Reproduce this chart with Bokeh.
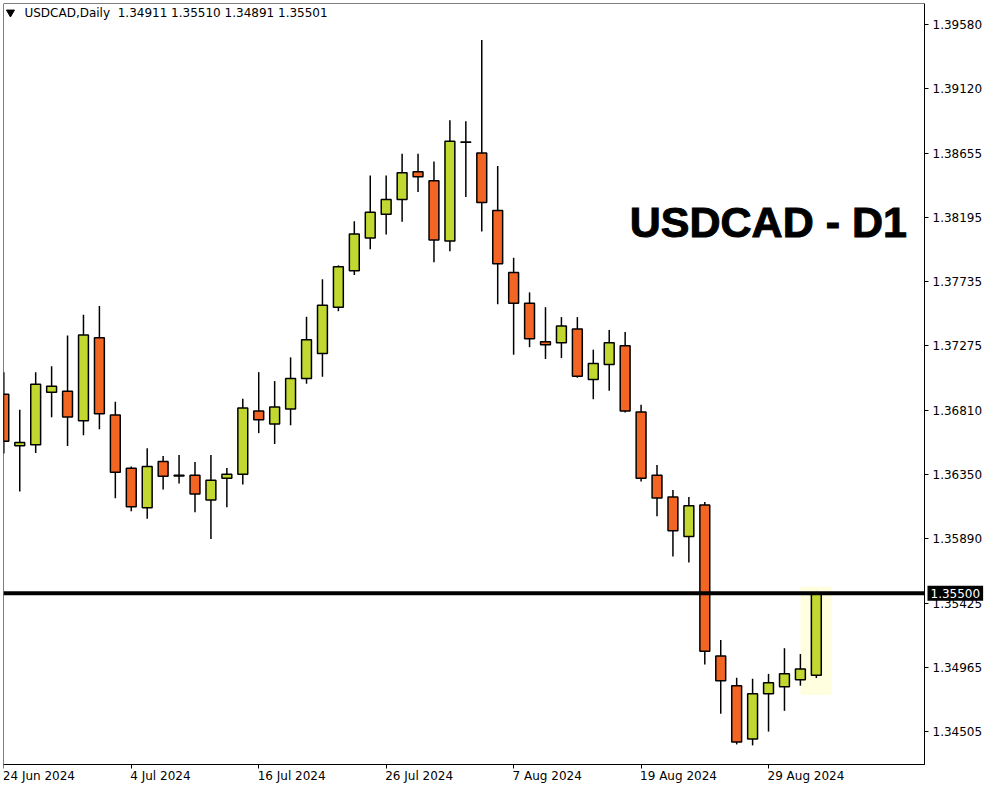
from bokeh.plotting import figure
from bokeh.models import (FixedTicker, BoxAnnotation, Label, ColumnDataSource,
                          Range1d, LinearAxis)
from bokeh.embed import file_html
from bokeh.resources import INLINE

# ---------------- data ----------------
symbol_header = "USDCAD,Daily\u00a0 1.34911 1.35510 1.34891 1.35501"
big_title = "USDCAD - D1"

opens = [1.36927, 1.36558, 1.36565, 1.36941, 1.36948, 1.36736, 1.37331, 1.36778, 1.36395, 1.36112,
         1.36445, 1.36345, 1.36346, 1.36168, 1.36324, 1.36353, 1.36806, 1.36714, 1.36821, 1.37040,
         1.37218, 1.37551, 1.37813, 1.38047, 1.38217, 1.38323, 1.38522, 1.38458, 1.38026, 1.38736,
         1.38656, 1.38245, 1.37799, 1.37579, 1.37303, 1.37296, 1.37395, 1.37033, 1.37139, 1.37274,
         1.36799, 1.36346, 1.36190, 1.35906, 1.36133, 1.35049, 1.34836, 1.34453, 1.34779, 1.34829,
         1.34878, 1.34911]
highs = [1.37085, 1.36816, 1.37085, 1.37128, 1.37347, 1.37496, 1.37560, 1.36872, 1.36409, 1.36539,
         1.36483, 1.36490, 1.36440, 1.36490, 1.36397, 1.36894, 1.37085, 1.37021, 1.37191, 1.37482,
         1.37751, 1.37851, 1.38167, 1.38496, 1.38496, 1.38651, 1.38651, 1.38595, 1.38892, 1.38885,
         1.39467, 1.38564, 1.37905, 1.37657, 1.37551, 1.37480, 1.37480, 1.37246, 1.37388, 1.37373,
         1.36851, 1.36419, 1.36239, 1.36190, 1.36154, 1.35164, 1.34893, 1.34886, 1.34921, 1.35105,
         1.35063, 1.35510]
lows = [1.36502, 1.36229, 1.36506, 1.36761, 1.36555, 1.36633, 1.36676, 1.36180, 1.36088, 1.36034,
        1.36244, 1.36286, 1.36081, 1.35889, 1.36116, 1.36279, 1.36648, 1.36570, 1.36704, 1.37002,
        1.37052, 1.37522, 1.37782, 1.37966, 1.38072, 1.38164, 1.38377, 1.37874, 1.37952, 1.38342,
        1.38094, 1.37572, 1.37210, 1.37264, 1.37179, 1.37186, 1.37045, 1.36891, 1.36952, 1.36796,
        1.36300, 1.36052, 1.35762, 1.35719, 1.34989, 1.34635, 1.34415, 1.34408, 1.34507, 1.34656,
        1.34836, 1.34891]
closes = [1.36589, 1.36580, 1.36998, 1.36984, 1.36764, 1.37352, 1.36787, 1.36367, 1.36119, 1.36409,
          1.36339, 1.36340, 1.36211, 1.36310, 1.36353, 1.36828, 1.36743, 1.36835, 1.37040, 1.37317,
          1.37565, 1.37841, 1.38075, 1.38231, 1.38323, 1.38515, 1.38486, 1.38033, 1.38741, 1.38733,
          1.38302, 1.37863, 1.37579, 1.37324, 1.37281, 1.37416, 1.37055, 1.37147, 1.37296, 1.36806,
          1.36324, 1.36183, 1.35947, 1.36126, 1.35084, 1.34871, 1.34432, 1.34779, 1.34857, 1.34921,
          1.34956, 1.35501]

date_tick_index = [0, 8, 16, 24, 32, 40, 48]
date_tick_labels = ["24 Jun 2024", "4 Jul 2024", "16 Jul 2024", "26 Jul 2024",
                    "7 Aug 2024", "19 Aug 2024", "29 Aug 2024"]
price_ticks = [1.34505, 1.34965, 1.35425, 1.35890, 1.36350, 1.36810,
               1.37275, 1.37735, 1.38195, 1.38655, 1.39120, 1.39580]
price_tick_labels = ["1.34505", "1.34965", "1.35425", "1.35890", "1.36350", "1.36810",
                     "1.37275", "1.37735", "1.38195", "1.38655", "1.39120", "1.39580"]
level_price = 1.35500
level_label = "1.35500"
highlight_bars = (50.0, 51.98)
highlight_prices = (1.34770, 1.35545)

# ---------------- geometry / styling ----------------
UP = "#C2D830"
DOWN = "#F26522"
FONT = "DejaVu Sans"
FS = 12

XS, XV = -0.02, 57.79        # visible bar range (chart box)
YSV, YE = 1.34271, 1.39729   # visible price range (chart box)
FW, FH = 981, 781            # frame incl. axis label area
BOX_R, BOX_B = 924, 764      # chart box right / bottom in canvas px (frame starts at 3,3)
PXU = (BOX_R - 3) / (XV - XS)          # px per bar
UPY = (YE - YSV) / (BOX_B - 3)         # price per px
XE = XS + FW / PXU
YS = YE - FH * UPY


def cx2x(cx):
    return XS + (cx - 3) / PXU


def rx(px):  # reference pixel -> data
    return XS + (px - 3) / 925 * (XV - XS)


def ry(py):
    return YE - (py - 3) / 770 * (YE - YSV)


idx = list(range(len(opens)))
tops = [max(o, c) for o, c in zip(opens, closes)]
bots = [min(o, c) for o, c in zip(opens, closes)]
cols = [UP if c > o else DOWN for o, c in zip(opens, closes)]
src = ColumnDataSource(dict(x=idx, high=highs, low=lows, top=tops, bottom=bots, color=cols))

p = figure(frame_width=FW, frame_height=FH,
           min_border_left=3, min_border_top=3, min_border_right=0, min_border_bottom=0,
           x_range=Range1d(XS, XE), y_range=Range1d(YS, YE),
           x_axis_location=None, y_axis_location=None,
           output_backend="svg", toolbar_location=None,
           background_fill_color="white", border_fill_color="white")
p.grid.visible = False
p.outline_line_color = None

# highlight box behind last candles
p.add_layout(BoxAnnotation(left=highlight_bars[0], right=highlight_bars[1],
                           bottom=highlight_prices[0], top=highlight_prices[1],
                           fill_color="#FFFFE0", fill_alpha=1, line_alpha=0, level="underlay"))

# candles
p.segment(x0="x", x1="x", y0="low", y1="high", source=src, line_color="black", line_width=1.5)
p.vbar(x="x", width=0.62, top="top", bottom="bottom", source=src,
       fill_color="color", line_color="black", line_width=1.5)

# level line across the chart box
p.line(x=[XS, XV], y=[level_price, level_price], line_color="black", line_width=4)

# chart box border
p.add_layout(BoxAnnotation(left=XS, right=XV, bottom=YSV, top=YE, fill_alpha=0,
                           line_color="black", line_width=1, line_alpha=1))

# y axis on the right edge of the chart box
yax = LinearAxis(fixed_location=XV, ticker=FixedTicker(ticks=price_ticks),
                 major_label_overrides={t: l for t, l in zip(price_ticks, price_tick_labels)},
                 bounds=(YSV, YE))
yax.minor_tick_line_color = None
yax.major_tick_in = 0
yax.major_tick_out = 4
yax.major_label_standoff = 4
yax.major_label_text_font = FONT
yax.major_label_text_font_size = f"{FS}px"
yax.major_label_text_color = "black"
yax.axis_line_color = "black"
yax.major_tick_line_color = "black"
p.add_layout(yax, "right")

# x axis: tick marks at the dates
xticks_ax = LinearAxis(fixed_location=YSV, ticker=FixedTicker(ticks=date_tick_index),
                       major_label_overrides={t: "" for t in date_tick_index},
                       bounds=(XS, XV))
xticks_ax.minor_tick_line_color = None
xticks_ax.major_tick_in = 0
xticks_ax.major_tick_out = 4
xticks_ax.axis_line_color = "black"
xticks_ax.major_tick_line_color = "black"
p.add_layout(xticks_ax, "below")

# x axis labels, left-aligned at each tick (ticks placed at label centres)
CW = {' ': 0.318, 'J': 0.295, 'u': 0.634, 'n': 0.634, 'l': 0.278, 'A': 0.684, 'g': 0.635}
label_pos = []
for t, lab in zip(date_tick_index, date_tick_labels):
    w = sum(CW.get(ch, 0.636) for ch in lab) * FS
    label_pos.append(round(t + (w / 2 - 1) / PXU, 4))
xlab_ax = LinearAxis(fixed_location=YSV, ticker=FixedTicker(ticks=label_pos),
                     major_label_overrides={c: l for c, l in zip(label_pos, date_tick_labels)})
xlab_ax.minor_tick_line_color = None
xlab_ax.major_tick_line_color = None
xlab_ax.axis_line_color = None
xlab_ax.major_tick_in = 0
xlab_ax.major_tick_out = 0
xlab_ax.major_label_standoff = 4
xlab_ax.major_label_text_font = FONT
xlab_ax.major_label_text_font_size = f"{FS}px"
xlab_ax.major_label_text_color = "black"
p.add_layout(xlab_ax, "below")

# price box for the level
p.add_layout(Label(x=cx2x(BOX_R + 3), y=level_price, text=level_label, text_align="left",
                   text_baseline="middle", text_font=FONT, text_font_size=f"{FS}px",
                   text_color="white", background_fill_color="black", padding=3))

# header
p.scatter(x=[rx(10)], y=[ry(12)], marker="inverted_triangle", size=8,
          fill_color="black", line_color="black")
p.add_layout(Label(x=rx(24), y=ry(12.5), text=symbol_header, text_align="left",
                   text_baseline="middle", text_font=FONT, text_font_size=f"{FS}px",
                   text_color="black"))

# big title
p.add_layout(Label(x=rx(632), y=ry(224.5), text=big_title, text_align="left",
                   text_baseline="alphabetic", text_font="Liberation Sans",
                   text_font_style="bold", text_font_size="43px", text_color="black",
                   text_outline_color="black"))

open("out.html", "w").write(file_html(p, INLINE))
